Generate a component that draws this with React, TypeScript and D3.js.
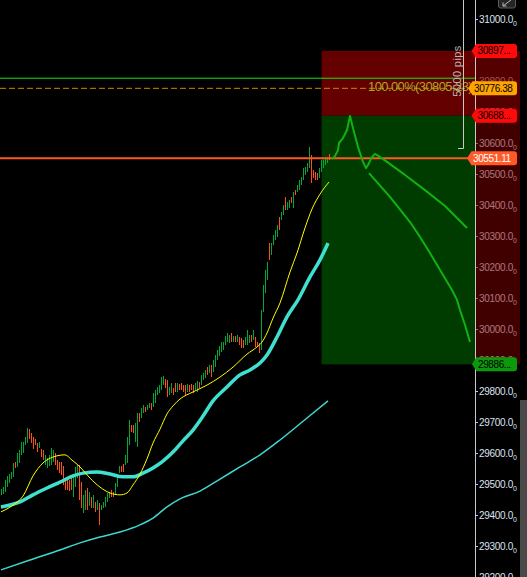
import React from 'react';
import * as d3 from 'd3';

const W = 527;
const H = 577;

// OHLC-style bars: high, low, direction (1 = up/green, 0 = down/orange)
const barHigh = [
  29484, 29490, 29513, 29526, 29532, 29539, 29568, 29571, 29600, 29610,
  29635, 29635, 29652, 29681, 29677, 29665, 29652, 29645, 29632, 29635,
  29613, 29610, 29594, 29584, 29594, 29616, 29610, 29600, 29577, 29571,
  29571, 29558, 29519, 29513, 29513, 29523, 29523, 29555, 29561, 29561,
  29506, 29465, 29481, 29487, 29474, 29458, 29465, 29442, 29448, 29439,
  29432, 29442, 29458, 29471, 29474, 29481, 29474, 29503, 29529, 29558,
  29558, 29565, 29594, 29652, 29706, 29690, 29690, 29697, 29729, 29729,
  29745, 29755, 29748, 29755, 29761, 29761, 29794, 29803, 29813, 29819,
  29845, 29848, 29839, 29835, 29813, 29826, 29810, 29826, 29826, 29823,
  29826, 29819, 29819, 29823, 29819, 29823, 29819, 29826, 29832, 29829,
  29852, 29858, 29868, 29877, 29884, 29884, 29900, 29916, 29932, 29945,
  29958, 29958, 29977, 29987, 29981, 29987, 29977, 29977, 29981, 29974,
  29971, 29965, 29974, 29997, 29981, 29981, 29997, 29974, 29958, 29955,
  30061, 30142, 30190, 30216, 30277, 30277, 30303, 30319, 30335, 30361,
  30377, 30400, 30426, 30410, 30416, 30426, 30442, 30448, 30465, 30481,
  30490, 30519, 30523, 30535, 30587, 30561, 30513, 30506, 30503, 30519,
  30545, 30545, 30552, 30555, 30565,
];
const barLow = [
  29465, 29468, 29474, 29490, 29503, 29516, 29523, 29552, 29555, 29568,
  29594, 29600, 29626, 29632, 29645, 29632, 29613, 29626, 29603, 29616,
  29587, 29577, 29561, 29552, 29558, 29561, 29571, 29561, 29545, 29535,
  29529, 29497, 29481, 29481, 29477, 29481, 29458, 29490, 29519, 29448,
  29423, 29406, 29416, 29416, 29429, 29423, 29423, 29410, 29416, 29368,
  29416, 29423, 29426, 29442, 29455, 29458, 29458, 29465, 29490, 29535,
  29539, 29539, 29561, 29568, 29626, 29668, 29665, 29635, 29619, 29700,
  29713, 29729, 29732, 29739, 29745, 29739, 29748, 29761, 29787, 29794,
  29803, 29819, 29810, 29781, 29787, 29794, 29787, 29797, 29797, 29803,
  29803, 29797, 29787, 29797, 29797, 29803, 29794, 29803, 29797, 29810,
  29819, 29835, 29842, 29852, 29858, 29845, 29861, 29877, 29900, 29913,
  29926, 29932, 29948, 29958, 29955, 29958, 29958, 29958, 29958, 29948,
  29939, 29939, 29948, 29948, 29955, 29958, 29965, 29942, 29942, 29923,
  29932, 30055, 30116, 30158, 30223, 30239, 30271, 30287, 30297, 30319,
  30352, 30368, 30384, 30384, 30390, 30406, 30390, 30432, 30442, 30448,
  30465, 30481, 30497, 30506, 30519, 30471, 30487, 30481, 30481, 30487,
  30506, 30519, 30529, 30535, 30545,
];
const barDir = [
  1, 1, 1, 1, 1, 1, 1, 0, 1, 1,
  1, 1, 1, 1, 0, 0, 0, 0, 0, 1,
  0, 0, 1, 1, 1, 1, 1, 0, 0, 0,
  0, 0, 0, 0, 0, 0, 1, 1, 1, 0,
  0, 1, 1, 0, 1, 0, 1, 0, 1, 0,
  1, 1, 1, 1, 1, 0, 0, 1, 1, 1,
  0, 0, 1, 1, 1, 0, 0, 1, 1, 0,
  1, 1, 0, 1, 1, 0, 1, 1, 1, 1,
  1, 1, 0, 0, 1, 1, 0, 0, 1, 0,
  0, 0, 0, 1, 0, 0, 0, 1, 1, 0,
  1, 1, 1, 0, 1, 0, 1, 1, 1, 1,
  1, 1, 1, 1, 1, 0, 1, 0, 1, 0,
  0, 0, 1, 1, 1, 0, 1, 0, 0, 0,
  1, 1, 1, 1, 0, 1, 1, 1, 1, 0,
  1, 1, 0, 1, 1, 0, 1, 0, 1, 1,
  1, 1, 1, 1, 1, 0, 0, 0, 0, 1,
  1, 1, 1, 1, 0,
];

// Moving averages: [bar index, price]
const maFast: [number, number][] = [
  [0, 29410], [6, 29432], [11, 29461], [16, 29526], [21, 29568], [26, 29587],
  [32, 29594], [35.5, 29577], [39.5, 29555], [44.5, 29519], [49.5, 29490],
  [54.5, 29471], [59.5, 29465], [63, 29471], [66, 29497], [69.5, 29532],
  [73, 29581], [76, 29632], [79.5, 29677], [83, 29726], [86, 29752],
  [89.5, 29774], [96, 29797], [103, 29819], [109.5, 29845], [116, 29877],
  [123, 29919], [128, 29942], [130.5, 29958], [133, 29987], [136, 30035],
  [139.5, 30084], [144.5, 30184], [148, 30245], [152, 30326], [155.5, 30387],
  [159.5, 30435], [164, 30474],
];
const maSlow: [number, number][] = [
  [0, 29426], [9.5, 29442], [16, 29465], [23, 29487], [29.5, 29506], [36, 29526],
  [41, 29535], [48, 29539], [54.5, 29532], [61, 29523], [66, 29523], [71, 29535],
  [76, 29552], [81, 29574], [86, 29603], [91, 29639], [96, 29674], [101, 29719],
  [106, 29768], [113, 29813], [119.5, 29852], [124.5, 29868], [129.5, 29890],
  [133, 29916], [138, 29974], [143, 30039], [148.5, 30094], [154.5, 30168],
  [159.5, 30223], [163.5, 30277],
];
const maLong: [number, number][] = [
  [0, 29223], [14.5, 29255], [29.5, 29287], [39.5, 29310], [49.5, 29329],
  [59.5, 29345], [69.5, 29368], [76, 29390], [83, 29426], [89.5, 29452],
  [99.5, 29477], [109.5, 29516], [119.5, 29555], [129.5, 29594], [139.5, 29642],
  [153, 29713], [163.5, 29768],
];

// Projected paths
const projA: [number, number][] = [
  [165.5, 30548], [167, 30558], [168.5, 30577], [169, 30600], [171, 30616],
  [173, 30642], [174.5, 30687], [176, 30648], [178.5, 30587], [181, 30539],
  [182.5, 30519], [183.5, 30529], [185.5, 30555], [187, 30565], [189.5, 30555],
  [193, 30539], [202, 30497], [212, 30448], [222, 30397], [233, 30326],
];
const projB: [number, number][] = [
  [184, 30503], [194.5, 30426], [204.5, 30345], [209.5, 30297], [214.5, 30245],
  [221, 30174], [225.5, 30126], [228, 30094], [229.5, 30061], [232, 30013],
  [234.5, 29958],
];

const stopLevel = 30897;
const entryLevel = 30688;
const targetLevel = 29886;
const boxStartBar = 160.3;
const greenLevel = 30809;
const fibLevel = 30776.38;
const lastPrice = 30551.11;
const fibText = '100.00%(30805.23)';
const pipsText = '5000 pips';
const yTicks = d3.range(29200, 31001, 100);

const tags = [
  { value: 30897, text: '30897...', fill: '#ff0a0a', color: '#000000', tip: 471.5 },
  { value: 30776.38, text: '30776.38', fill: '#ffa500', color: '#000000', tip: 468 },
  { value: 30688, text: '30688...', fill: '#ff0a0a', color: '#000000', tip: 471.5 },
  { value: 30551.11, text: '30551.11', fill: '#ff5a28', color: '#ffffff', tip: 467 },
  { value: 29886, text: '29886...', fill: '#0c9a0c', color: '#000000', tip: 472 },
];

const FONT = '"Liberation Sans", Arial, sans-serif';

export default function App() {
  const axisX = 475;
  const x = d3.scaleLinear().domain([0, 237]).range([1, 475]);
  const y = d3.scaleLinear().domain([29200, 31000]).range([577, 19]);

  const line = d3
    .line<[number, number]>()
    .x((d) => x(d[0]))
    .y((d) => y(d[1]))
    .curve(d3.curveMonotoneX);
  const straight = d3
    .line<[number, number]>()
    .x((d) => x(d[0]))
    .y((d) => y(d[1]));

  const tagPath = (cy: number, tip: number) => {
    const top = cy - 7;
    const bot = cy + 7;
    const bx = tip + 4.5;
    const r = 517;
    return `M${tip},${cy} L${bx},${top} L${r - 3},${top} Q${r},${top} ${r},${top + 3} L${r},${bot - 3} Q${r},${bot} ${r - 3},${bot} L${bx},${bot} Z`;
  };

  const boxX0 = x(boxStartBar);

  return (
    <svg
      width={W}
      height={H}
      style={{ position: 'fixed', left: 0, top: 0, display: 'block' }}
      fontFamily={FONT}
    >
      <defs>
        <clipPath id="plot">
          <rect x={0} y={0} width={axisX} height={H} />
        </clipPath>
      </defs>
      <rect x={0} y={0} width={W} height={H} fill="#000" />

      {/* position boxes */}
      <rect x={boxX0} y={y(stopLevel)} width={axisX - boxX0} height={y(entryLevel) - y(stopLevel)} fill="#640000" />
      <rect x={boxX0} y={y(entryLevel)} width={axisX - boxX0} height={y(targetLevel) - y(entryLevel)} fill="#003c00" />

      {/* bars */}
      {barHigh.map((h, i) => (
        <line
          key={i}
          x1={x(i) + 0.5}
          x2={x(i) + 0.5}
          y1={Math.round(y(h))}
          y2={Math.round(y(h)) + Math.max(2, Math.round(y(barLow[i]) - y(h)))}
          stroke={barDir[i] ? '#00a83a' : '#ff5014'}
          strokeWidth={1}
        />
      ))}

      <g clipPath="url(#plot)">
        {/* moving averages */}
        <path d={line(maLong) || ''} fill="none" stroke="#3fd6d0" strokeWidth={1.5} />
        <path d={line(maSlow) || ''} fill="none" stroke="#40e0d0" strokeWidth={3.5} />
        <path d={line(maFast) || ''} fill="none" stroke="#ffff00" strokeWidth={1} />

        {/* horizontal levels */}
        <line x1={0} x2={axisX} y1={y(greenLevel)} y2={y(greenLevel)} stroke="#14e614" strokeWidth={1} />
        <line x1={0} x2={axisX} y1={y(fibLevel)} y2={y(fibLevel)} stroke="#c88a00" strokeWidth={1} strokeDasharray="6,3" />
        <line x1={0} x2={axisX} y1={y(lastPrice)} y2={y(lastPrice)} stroke="#ff5a1e" strokeWidth={2} />

        {/* projections */}
        <path d={straight(projA) || ''} fill="none" stroke="#12b012" strokeWidth={2} strokeLinejoin="round" />
        <path d={straight(projB) || ''} fill="none" stroke="#12b012" strokeWidth={2} strokeLinejoin="round" />

        <text x={368} y={y(fibLevel) + 2.5} fontSize={13} fill="#a8a826" letterSpacing={-0.6}>
          {fibText}
        </text>
      </g>

      {/* axis */}
      <line x1={axisX + 0.5} x2={axisX + 0.5} y1={0} y2={H} stroke="#c8c8c8" strokeWidth={1} />
      {yTicks.map((v) => (
        <g key={v}>
          <line x1={axisX} x2={axisX + 3} y1={Math.round(y(v)) + 0.5} y2={Math.round(y(v)) + 0.5} stroke="#c8c8c8" />
          <text x={479} y={y(v)} dy="0.35em" fontSize={10} fill="#dde2f0" letterSpacing={-0.3}>
            {d3.format('.1f')(v)}
            <tspan fontSize={7} dy={3}>0</tspan>
          </text>
        </g>
      ))}
      {/* zone overlay right of axis */}
      <rect x={axisX + 1} y={y(stopLevel)} width={520 - axisX - 1} height={y(targetLevel) - y(stopLevel)} fill="rgba(130,0,0,0.5)" />
      <rect x={axisX + 1} y={y(stopLevel)} width={520 - axisX - 1} height={y(entryLevel) - y(stopLevel)} fill="rgba(130,0,0,0.3)" />

      {/* scrollbar strip */}
      <rect x={520} y={400} width={7} height={H - 400} fill="#4a4a4a" />

      {/* price tags */}
      {tags.map((t) => (
        <g key={t.text}>
          <path d={tagPath(y(t.value), t.tip)} fill={t.fill} />
          <text x={t.tip + 6} y={y(t.value)} dy="0.35em" fontSize={10} fill={t.color} letterSpacing={-0.4}>
            {t.text}
          </text>
        </g>
      ))}

      {/* pips bracket */}
      <path d="M463.5,0 L463.5,148.5 L458,148.5" fill="none" stroke="#c8c8c8" strokeWidth={1} />
      <text
        transform="translate(457,71) rotate(-90)"
        textAnchor="middle"
        dy="0.35em"
        fontSize={11}
        fill="#b8b8b8"
        letterSpacing={0.4}
      >
        {pipsText}
      </text>

      {/* corner icon */}
      <rect x={498.5} y={-4} width={17} height={12} rx={2} fill="#262626" stroke="#5a5a5a" />
      <path d="M511,0 L503,6 M503,2.5 L503,6 L506.5,6" fill="none" stroke="#bbbbbb" strokeWidth={1} />
    </svg>
  );
}
